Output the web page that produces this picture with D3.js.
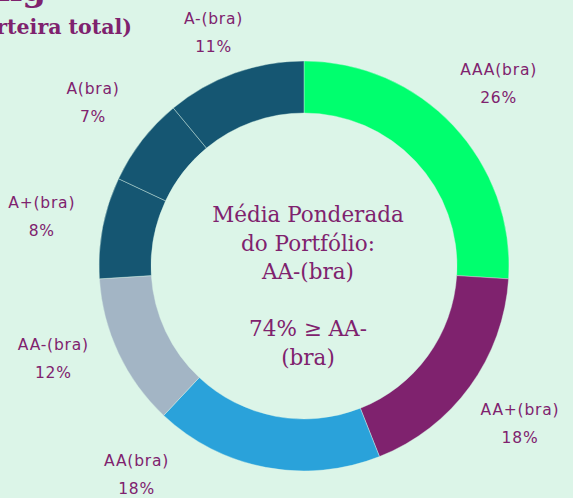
<!DOCTYPE html>
<html>
<head>
<meta charset="utf-8">
<script src="https://cdn.jsdelivr.net/npm/d3@7"></script>
<style>
  html, body { margin: 0; padding: 0; background: #dcf5e8; overflow: hidden; }
  #svg-container { width: 573px; height: 498px; }
  .slice-label { font-family: "DejaVu Sans", sans-serif; font-size: 15.5px; fill: #7f226e; letter-spacing: 0.8px; }
  .center-text { font-family: "DejaVu Serif", serif; font-size: 21.5px; fill: #7f226e; }
  .title { font-family: "DejaVu Serif", serif; font-weight: bold; fill: #7f226e; }
</style>
</head>
<body>
<div id="svg-container"></div>
<script>
////////////////////////////////////////////////////////////////////
////////////////////////////  Data  ////////////////////////////////
const ratings = ["AAA(bra)", "AA+(bra)", "AA(bra)", "AA-(bra)", "A+(bra)", "A(bra)", "A-(bra)"];
const shares = [26, 18, 18, 12, 8, 7, 11];
const sliceColors = ["#00ff6e", "#7f226e", "#2aa2da", "#a3b5c5", "#155672", "#155672", "#155672"];
const centerLines = ["Média Ponderada", "do Portfólio:", "AA-(bra)", "", "74% ≥ AA-", "(bra)"];
const titleLines = ["Distribuição por Rating", "(% da carteira total)"];

////////////////////////////////////////////////////////////////////
////////////////////////////  Init  ////////////////////////////////
const width = 573;
const height = 498;
const cx = 304;
const cy = 266;
const outerR = 205;
const innerR = 153;
const labelR = 267;
const labelMinY = 32;          // label centres kept inside the frame
const labelMaxY = height - 24;
const labelGap = 116;          // min vertical gap between stacked labels on one side

const svg = d3.select("#svg-container").append("svg")
  .attr("width", width)
  .attr("height", height);

const data = ratings.map((r, i) => ({ rating: r, share: shares[i], color: sliceColors[i] }));

const pie = d3.pie().value((d) => d.share).sort(null);
const arc = d3.arc().innerRadius(innerR).outerRadius(outerR);
const arcs = pie(data);

const g = svg.append("g").attr("transform", `translate(${cx},${cy})`);

// Slices
g.selectAll(".slice")
  .data(arcs)
  .enter()
  .append("path")
  .attr("class", "slice")
  .attr("d", arc)
  .attr("fill", (d) => d.data.color)
  .attr("stroke", "#dcf5e8")
  .attr("stroke-width", 0.4);

////////////////////////////////////////////////////////////////////
////////////////////////////  Label layout  ////////////////////////
// start radial, slide along the circle when below the frame,
// then push labels on the left side upward so they do not crowd
const pos = arcs.map((d) => {
  const a = (d.startAngle + d.endAngle) / 2;
  const side = a < Math.PI ? 1 : -1;
  let y = -Math.cos(a) * labelR;
  let x = Math.sin(a) * labelR;
  if (y > labelMaxY - cy) {
    y = labelMaxY - cy;
    x = side * Math.sqrt(labelR * labelR - y * y);
  }
  return { x, y, side };
});

const left = pos.filter((p) => p.side < 0).sort((a, b) => b.y - a.y);
for (let i = 1; i < left.length; i++) {
  const limit = left[i - 1].y - labelGap;
  if (left[i].y > limit && left[i].y > -labelR + labelGap) {
    left[i].y = limit;
    left[i].x = -Math.sqrt(Math.max(0, labelR * labelR - limit * limit));
  }
}
pos.forEach((p) => {
  if (p.y < labelMinY - cy) p.y = labelMinY - cy;
});

const labels = g.selectAll(".slice-label")
  .data(arcs)
  .enter()
  .append("text")
  .attr("class", "slice-label")
  .attr("text-anchor", "middle")
  .attr("transform", (d, i) => `translate(${pos[i].x},${pos[i].y})`);

labels.append("tspan").attr("x", 0).attr("y", -8).text((d) => d.data.rating);
labels.append("tspan").attr("x", 0).attr("y", 20).text((d) => d.data.share + "%");

// Center text
g.append("text")
  .attr("class", "center-text")
  .attr("text-anchor", "middle")
  .selectAll("tspan")
  .data(centerLines)
  .enter()
  .append("tspan")
  .attr("x", 4)
  .attr("y", (d, i) => -44 + i * 28.5)
  .text((d) => d);

// Title (mostly outside the visible frame)
svg.append("text")
  .attr("class", "title")
  .attr("text-anchor", "end")
  .attr("x", 46)
  .attr("y", 1)
  .style("font-size", "34px")
  .text(titleLines[0]);

svg.append("text")
  .attr("class", "title")
  .attr("text-anchor", "end")
  .attr("x", 132)
  .attr("y", 34)
  .style("font-size", "20.5px")
  .style("font-weight", "600")
  .text(titleLines[1]);
</script>
</body>
</html>
